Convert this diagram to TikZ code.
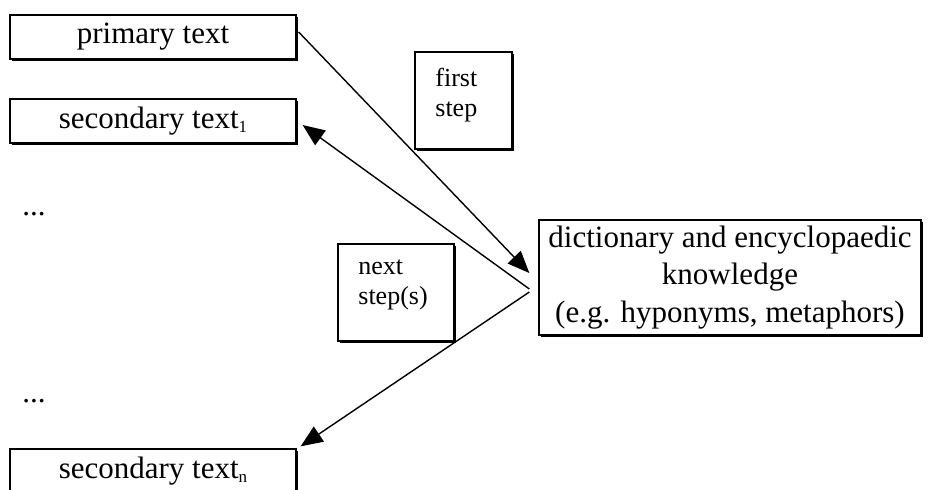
\documentclass[tikz,border=0pt]{standalone}
\usepackage{fontspec}
\setmainfont{Liberation Serif}
\usetikzlibrary{arrows.meta,shadows}
\newcommand{\mysub}[1]{\raisebox{-1.8pt}{\fontsize{8.5}{8.5}\selectfont #1}}
\begin{document}
\begin{tikzpicture}[x=0.5pt,y=-0.5pt,
  box/.style={draw, line width=0.65pt, inner sep=0pt, fill=white,
    drop shadow={shadow xshift=0.9pt, shadow yshift=-0.9pt, fill=black, opacity=1}},
  big/.style={font=\fontsize{15.5}{18.75}\selectfont},
  small/.style={font=\fontsize{13}{15}\selectfont, align=left, inner sep=0pt},
  conn/.style={line width=0.7pt, -{Triangle[length=11pt,width=9pt]}}]
\useasboundingbox (0,0) rectangle (938,489);
\node[box,big,minimum width=143pt,minimum height=22pt] (primary) at (153,37) {primary text};
\node[box,big,minimum width=143pt,minimum height=22pt] (sec1) at (153,121) {secondary text\mysub{1}};
\node[box,big,minimum width=143pt,minimum height=22pt] (secn) at (153,471) {secondary text\mysub{n}};
\node[box,big,align=center,minimum width=191pt,minimum height=57.5pt] (dict) at (730,277.5)
  {dictionary and encyclopaedic\\knowledge\\(e.g. hyponyms, metaphors)};
\node[box,minimum width=48.5pt,minimum height=48.5pt] (firstbox) at (463.5,100.5) {};
\node[small,anchor=north west] (firsttext) at (435,68) {first\\step};
\node[box,minimum width=58pt,minimum height=48.5pt] (nextbox) at (396,292.5) {};
\node[small,anchor=north west] (nexttext) at (358,259) {next\\step(s)};
\node[big,anchor=base west,inner sep=0pt] (dots1) at (22,215) {...};
\node[big,anchor=base west,inner sep=0pt] (dots2) at (22,402) {...};
\draw[conn] ([xshift=1pt,yshift=2.5pt]primary.east) -- ([xshift=-4.5pt,yshift=2.25pt]dict.west);
\draw[conn] ([xshift=-4.5pt,yshift=-5.75pt]dict.west) -- ([xshift=3pt,yshift=-2pt]sec1.east);
\draw[conn] ([xshift=-4.5pt,yshift=-7.25pt]dict.west) -- ([xshift=2pt,yshift=1pt]secn.north east);
\end{tikzpicture}
\end{document}
